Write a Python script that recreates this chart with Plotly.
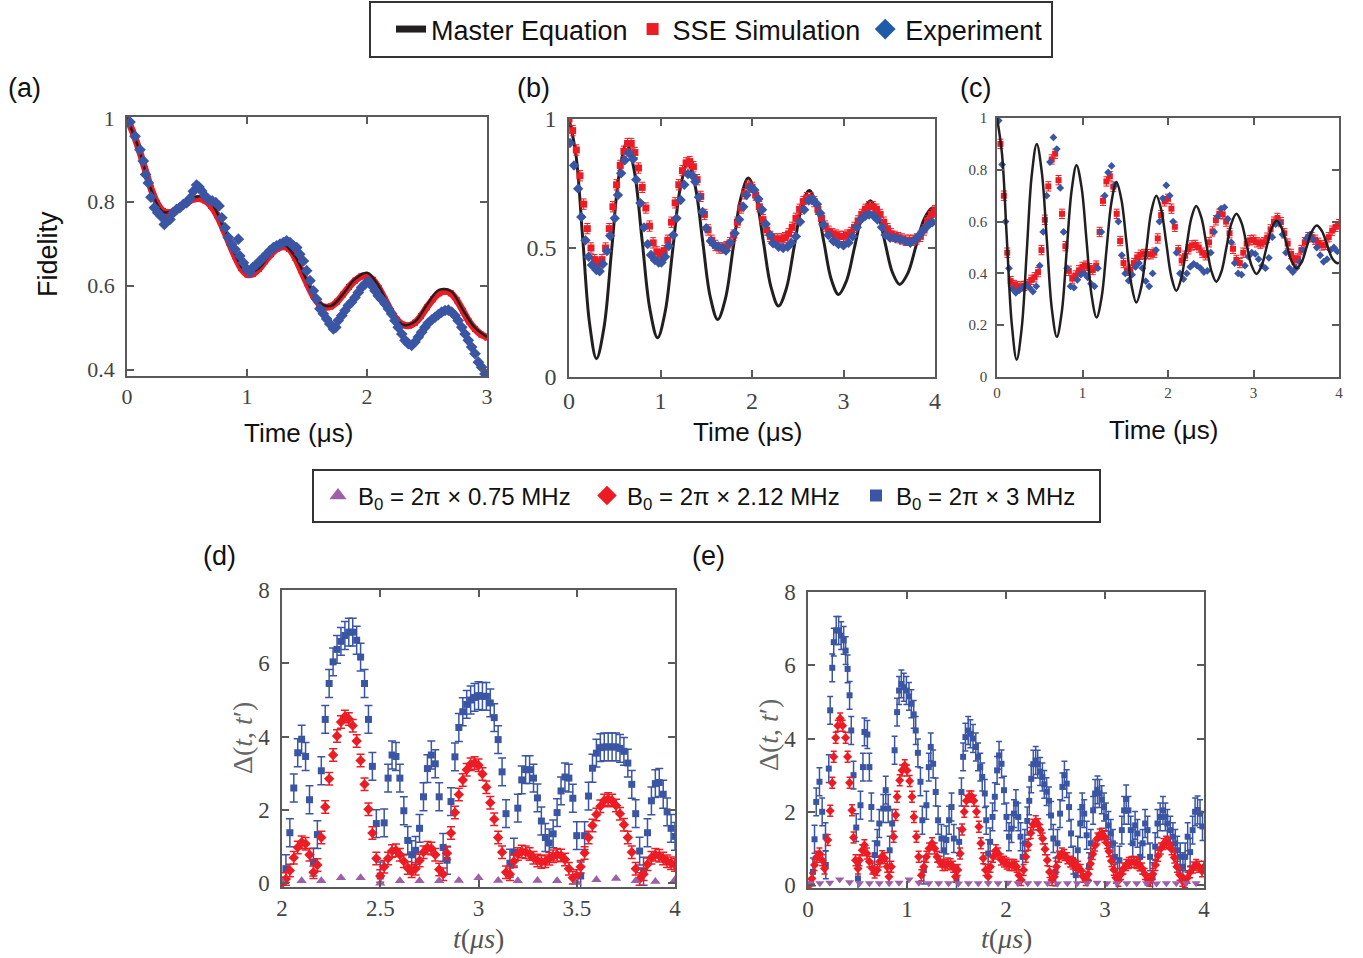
import plotly.graph_objects as go

W, H = 1363, 958

# ---------------- Panel (a) data ----------------
A_ME = [(0.0,1.000),(0.1,0.925),(0.2,0.830),(0.3,0.776),(0.4,0.780),(0.5,0.798),(0.6,0.813),
        (0.7,0.798),(0.8,0.742),(0.9,0.675),(1.0,0.630),(1.1,0.642),(1.2,0.678),(1.3,0.698),
        (1.4,0.670),(1.5,0.612),(1.6,0.560),(1.7,0.552),(1.8,0.580),(1.9,0.616),(2.0,0.631),
        (2.1,0.598),(2.2,0.542),(2.3,0.507),(2.4,0.515),(2.5,0.555),(2.6,0.590),(2.7,0.587),
        (2.8,0.542),(2.9,0.500),(3.0,0.478)]
A_SSE = [(0.00,1.000),(0.05,0.965),(0.10,0.925),(0.15,0.878),(0.20,0.832),(0.25,0.797),(0.30,0.778),
         (0.35,0.774),(0.40,0.779),(0.45,0.789),(0.50,0.798),(0.55,0.806),(0.60,0.808),(0.65,0.803),
         (0.70,0.790),(0.75,0.768),(0.80,0.737),(0.85,0.703),(0.90,0.670),(0.95,0.642),(1.00,0.627),
         (1.05,0.628),(1.10,0.640),(1.15,0.658),(1.20,0.675),(1.25,0.688),(1.30,0.693),(1.35,0.688),
         (1.40,0.667),(1.45,0.637),(1.50,0.606),(1.55,0.577),(1.60,0.557),(1.65,0.549),(1.70,0.551),
         (1.75,0.562),(1.80,0.579),(1.85,0.597),(1.90,0.612),(1.95,0.622),(2.00,0.624),(2.05,0.614),
         (2.10,0.594),(2.15,0.567),(2.20,0.540),(2.25,0.519),(2.30,0.507),(2.35,0.505),(2.40,0.512),
         (2.45,0.528),(2.50,0.549),(2.55,0.568),(2.60,0.582),(2.65,0.587),(2.70,0.582),(2.75,0.565),
         (2.80,0.540),(2.85,0.515),(2.90,0.497),(2.95,0.484),(3.00,0.477)]
A_EXP = [(0.025,0.99),(0.067,0.956),(0.108,0.924),(0.136,0.897),(0.155,0.865),(0.178,0.845),(0.2,0.811),
         (0.228,0.786),(0.256,0.774),(0.283,0.766),(0.311,0.746),(0.33,0.754),(0.358,0.758),(0.386,0.774),
         (0.414,0.782),(0.44,0.786),(0.47,0.794),(0.497,0.798),(0.525,0.808),(0.553,0.825),(0.58,0.84),
         (0.6,0.835),(0.622,0.826),(0.65,0.814),(0.678,0.806),(0.71,0.802),(0.74,0.798),(0.767,0.79),
         (0.79,0.762),(0.817,0.738),(0.844,0.715),(0.872,0.699),(0.9,0.687),(0.928,0.711),(0.94,0.671),
         (0.97,0.655),(0.997,0.64),(1.025,0.632),(1.05,0.644),(1.08,0.651),(1.108,0.659),(1.136,0.667),
         (1.164,0.675),(1.19,0.683),(1.22,0.691),(1.247,0.695),(1.275,0.699),(1.303,0.703),(1.33,0.707),
         (1.358,0.703),(1.386,0.695),(1.414,0.691),(1.44,0.675),(1.47,0.659),(1.497,0.636),(1.525,0.612),
         (1.553,0.588),(1.58,0.568),(1.608,0.545),(1.636,0.533),(1.664,0.521),(1.69,0.509),(1.72,0.497),
         (1.74,0.501),(1.76,0.517),(1.79,0.529),(1.817,0.541),(1.844,0.553),(1.872,0.561),(1.9,0.572),
         (1.928,0.584),(1.955,0.596),(1.983,0.604),(2.01,0.61),(2.04,0.6),(2.067,0.588),(2.094,0.576),
         (2.12,0.568),(2.15,0.557),(2.178,0.545),(2.205,0.533),(2.233,0.517),(2.26,0.501),(2.29,0.485),
         (2.317,0.47),(2.344,0.462),(2.372,0.458),(2.4,0.466),(2.428,0.478),(2.455,0.489),(2.483,0.501),
         (2.51,0.511),(2.54,0.519),(2.567,0.525),(2.594,0.531),(2.622,0.537),(2.65,0.541),(2.678,0.542),
         (2.706,0.537),(2.733,0.529),(2.76,0.517),(2.79,0.501),(2.817,0.485),(2.844,0.47),(2.872,0.454),
         (2.9,0.438),(2.928,0.418),(2.955,0.406),(2.983,0.39),(3.0,0.383)]

# ---------------- Panel (b) data ----------------
B_ME = [(0,1.0),(0.075,0.864),(0.15,0.536),(0.225,0.207),(0.30,0.071),(0.383,0.193),(0.465,0.489),
        (0.548,0.785),(0.63,0.907),(0.715,0.796),(0.799,0.530),(0.884,0.263),(0.968,0.152),(1.050,0.251),
        (1.133,0.491),(1.215,0.730),(1.297,0.829),(1.379,0.740),(1.461,0.526),(1.543,0.312),(1.625,0.223),
        (1.709,0.303),(1.793,0.497),(1.876,0.691),(1.96,0.771),(2.043,0.698),(2.125,0.523),(2.208,0.348),
        (2.29,0.275),(2.374,0.341),(2.458,0.499),(2.541,0.657),(2.625,0.723),(2.705,0.664),(2.786,0.522),
        (2.866,0.379),(2.946,0.320),(3.033,0.373),(3.120,0.502),(3.206,0.630),(3.293,0.683),(3.373,0.636),
        (3.454,0.521),(3.534,0.406),(3.614,0.359),(3.703,0.402),(3.792,0.507),(3.881,0.612),(3.97,0.655),
        (4.0,0.653)]
B_SSE = [(0.00,1.000),(0.04,0.955),(0.08,0.880),(0.12,0.780),(0.16,0.670),(0.20,0.575),(0.24,0.500),
         (0.28,0.455),(0.32,0.440),(0.36,0.455),(0.40,0.500),(0.44,0.575),(0.48,0.660),(0.52,0.745),
         (0.56,0.820),(0.60,0.875),(0.64,0.905),(0.68,0.905),(0.72,0.870),(0.76,0.810),(0.80,0.735),
         (0.84,0.655),(0.88,0.585),(0.92,0.520),(0.96,0.485),(1.00,0.475),(1.04,0.490),(1.08,0.530),
         (1.12,0.600),(1.16,0.675),(1.20,0.745),(1.24,0.800),(1.28,0.830),(1.32,0.835),(1.36,0.815),
         (1.40,0.765),(1.44,0.700),(1.48,0.630),(1.52,0.570),(1.56,0.530),(1.60,0.510),(1.64,0.500),
         (1.68,0.500),(1.72,0.505),(1.76,0.520),(1.80,0.550),(1.84,0.600),(1.88,0.655),(1.92,0.710),
         (1.96,0.740),(2.00,0.735),(2.04,0.705),(2.08,0.660),(2.12,0.610),(2.16,0.570),(2.20,0.545),
         (2.24,0.535),(2.28,0.535),(2.32,0.535),(2.36,0.540),(2.40,0.555),(2.44,0.580),(2.48,0.615),
         (2.52,0.650),(2.56,0.680),(2.60,0.695),(2.64,0.695),(2.68,0.680),(2.72,0.650),(2.76,0.615),
         (2.80,0.585),(2.84,0.565),(2.88,0.555),(2.92,0.550),(2.96,0.545),(3.00,0.545),(3.04,0.550),
         (3.08,0.560),(3.12,0.580),(3.16,0.605),(3.20,0.630),(3.24,0.650),(3.28,0.660),(3.32,0.660),
         (3.36,0.650),(3.40,0.630),(3.44,0.600),(3.48,0.575),(3.52,0.555),(3.56,0.545),(3.60,0.540),
         (3.64,0.535),(3.68,0.530),(3.72,0.530),(3.76,0.530),(3.80,0.535),(3.84,0.545),(3.88,0.570),
         (3.92,0.605),(3.96,0.630),(4.00,0.645)]
B_EXP = [(0.01,0.907),(0.055,0.82),(0.10,0.73),(0.135,0.62),(0.18,0.53),(0.215,0.466),(0.25,0.434),
         (0.30,0.415),(0.335,0.41),(0.37,0.438),(0.415,0.488),(0.45,0.547),(0.50,0.615),(0.535,0.705),
         (0.57,0.79),(0.61,0.84),(0.655,0.868),(0.70,0.845),(0.735,0.765),(0.78,0.674),(0.82,0.58),
         (0.86,0.515),(0.895,0.473),(0.94,0.453),(0.98,0.444),(1.01,0.444),(1.05,0.466),(1.09,0.508),
         (1.14,0.55),(1.175,0.615),(1.22,0.686),(1.26,0.745),(1.30,0.787),(1.35,0.78),(1.38,0.757),
         (1.42,0.697),(1.46,0.64),(1.50,0.577),(1.55,0.527),(1.59,0.512),(1.63,0.506),(1.675,0.50),
         (1.715,0.49),(1.76,0.52),(1.81,0.557),(1.86,0.61),(1.905,0.66),(1.94,0.705),(1.98,0.735),
         (2.025,0.725),(2.07,0.69),(2.11,0.648),(2.15,0.593),(2.20,0.55),(2.23,0.518),(2.29,0.505),
         (2.34,0.50),(2.39,0.505),(2.43,0.52),(2.48,0.545),(2.525,0.602),(2.57,0.648),(2.62,0.684),
         (2.66,0.69),(2.71,0.67),(2.745,0.635),(2.78,0.59),(2.835,0.55),(2.89,0.527),(2.945,0.515),
         (3.00,0.51),(3.055,0.52),(3.10,0.545),(3.145,0.58),(3.19,0.61),(3.24,0.625),(3.28,0.63),
         (3.33,0.625),(3.37,0.61),(3.42,0.58),(3.46,0.55),(3.51,0.54),(3.565,0.538),(3.62,0.533),
         (3.675,0.527),(3.73,0.52),(3.785,0.533),(3.83,0.55),(3.875,0.57),(3.93,0.59),(3.97,0.60)]

# ---------------- Panel (c) data ----------------
C_ME = [(0,1.0),(0.058,0.863),(0.115,0.534),(0.173,0.204),(0.23,0.067),(0.289,0.189),(0.348,0.484),
        (0.406,0.778),(0.465,0.90),(0.524,0.791),(0.583,0.528),(0.641,0.264),(0.70,0.155),(0.758,0.252),
        (0.815,0.487),(0.873,0.721),(0.93,0.818),(0.989,0.732),(1.048,0.524),(1.106,0.316),(1.165,0.23),
        (1.223,0.307),(1.281,0.492),(1.339,0.676),(1.397,0.753),(1.455,0.685),(1.514,0.521),(1.572,0.356),
        (1.63,0.288),(1.688,0.348),(1.747,0.494),(1.805,0.640),(1.863,0.70),(1.921,0.646),(1.98,0.517),
        (2.039,0.387),(2.097,0.333),(2.155,0.381),(2.214,0.497),(2.272,0.612),(2.33,0.66),(2.389,0.617),
        (2.448,0.514),(2.506,0.411),(2.565,0.368),(2.624,0.406),(2.683,0.499),(2.741,0.592),(2.80,0.63),
        (2.859,0.596),(2.918,0.514),(2.976,0.432),(3.035,0.398),(3.094,0.428),(3.153,0.501),(3.211,0.573),
        (3.27,0.603),(3.329,0.576),(3.388,0.512),(3.446,0.447),(3.505,0.42),(3.564,0.444),(3.623,0.503),
        (3.681,0.561),(3.74,0.585),(3.799,0.564),(3.858,0.513),(3.916,0.461),(3.975,0.44),(4.0,0.441)]
C_SSE = [(0.00,1.000),(0.04,0.900),(0.08,0.700),(0.12,0.480),(0.16,0.370),(0.20,0.355),(0.24,0.350),
         (0.28,0.350),(0.32,0.352),(0.36,0.358),(0.40,0.375),(0.44,0.385),(0.48,0.405),(0.52,0.490),
         (0.56,0.607),(0.60,0.736),(0.64,0.840),(0.68,0.862),(0.72,0.760),(0.76,0.630),(0.80,0.505),
         (0.84,0.410),(0.88,0.380),(0.92,0.392),(0.96,0.412),(1.00,0.425),(1.04,0.430),(1.08,0.420),
         (1.12,0.413),(1.16,0.430),(1.20,0.560),(1.24,0.680),(1.28,0.755),(1.32,0.775),(1.36,0.735),
         (1.40,0.630),(1.44,0.525),(1.48,0.440),(1.52,0.410),(1.56,0.415),(1.60,0.440),(1.64,0.462),
         (1.68,0.472),(1.72,0.475),(1.76,0.474),(1.80,0.474),(1.84,0.480),(1.88,0.535),(1.92,0.625),
         (1.96,0.678),(2.00,0.688),(2.04,0.650),(2.08,0.580),(2.12,0.490),(2.16,0.450),(2.20,0.468),
         (2.24,0.493),(2.28,0.508),(2.32,0.510),(2.36,0.500),(2.40,0.480),(2.44,0.470),(2.48,0.520),
         (2.52,0.562),(2.56,0.605),(2.60,0.630),(2.64,0.628),(2.68,0.600),(2.72,0.555),(2.76,0.495),
         (2.80,0.452),(2.84,0.440),(2.88,0.480),(2.92,0.515),(2.96,0.528),(3.00,0.530),(3.04,0.520),
         (3.08,0.515),(3.12,0.520),(3.16,0.538),(3.20,0.570),(3.24,0.600),(3.28,0.614),(3.32,0.598),
         (3.36,0.555),(3.40,0.515),(3.44,0.475),(3.48,0.452),(3.52,0.458),(3.56,0.490),(3.60,0.520),
         (3.64,0.540),(3.68,0.540),(3.72,0.530),(3.76,0.518),(3.80,0.508),(3.84,0.510),(3.88,0.540),
         (3.92,0.565),(3.96,0.580),(4.00,0.590)]
C_EXP = [(0.02,0.990),(0.06,0.820),(0.10,0.600),(0.14,0.420),(0.18,0.340),(0.22,0.325),(0.26,0.335),
         (0.30,0.345),(0.34,0.355),(0.38,0.345),(0.42,0.330),(0.46,0.350),(0.50,0.430),(0.54,0.560),
         (0.58,0.700),(0.62,0.830),(0.66,0.925),(0.70,0.880),(0.74,0.730),(0.78,0.560),(0.82,0.420),
         (0.86,0.350),(0.90,0.345),(0.94,0.375),(0.98,0.395),(1.02,0.400),(1.06,0.385),(1.10,0.360),
         (1.14,0.350),(1.18,0.420),(1.22,0.560),(1.26,0.700),(1.30,0.790),(1.34,0.815),(1.38,0.740),
         (1.42,0.600),(1.46,0.470),(1.50,0.400),(1.54,0.372),(1.58,0.395),(1.62,0.425),(1.66,0.440),
         (1.70,0.420),(1.74,0.370),(1.78,0.350),(1.82,0.400),(1.86,0.490),(1.90,0.600),(1.94,0.690),
         (1.98,0.740),(2.02,0.700),(2.06,0.600),(2.10,0.480),(2.14,0.400),(2.18,0.378),(2.22,0.400),
         (2.26,0.425),(2.30,0.437),(2.34,0.430),(2.38,0.420),(2.42,0.405),(2.46,0.410),(2.50,0.480),
         (2.54,0.560),(2.58,0.620),(2.62,0.650),(2.66,0.655),(2.70,0.610),(2.74,0.520),(2.78,0.440),
         (2.82,0.400),(2.86,0.395),(2.90,0.430),(2.94,0.465),(2.98,0.480),(3.02,0.475),(3.06,0.455),
         (3.10,0.430),(3.14,0.420),(3.18,0.460),(3.22,0.540),(3.26,0.590),(3.30,0.595),(3.34,0.550),
         (3.38,0.480),(3.42,0.420),(3.46,0.405),(3.50,0.420),(3.54,0.445),(3.58,0.490),(3.62,0.535),
         (3.66,0.550),(3.70,0.530),(3.74,0.500),(3.78,0.470),(3.82,0.445),(3.86,0.455),(3.90,0.490),
         (3.94,0.500),(3.98,0.485)]

# ---------------- Panel (d) data ----------------
D_B075 = [(2.0,0.04),(2.1,0.07),(2.2,0.07),(2.3,0.15),(2.4,0.15),(2.5,0.0),(2.6,0.07),(2.7,0.07),
          (2.8,0.07),(2.9,0.08),(3.0,0.15),(3.1,0.08),(3.2,0.07),(3.3,0.08),(3.4,0.07),(3.5,0.02),
          (3.6,0.10),(3.7,0.13),(3.8,0.07),(3.9,0.05),(4.0,0.10)]
D_B212 = [(2.00,0.0),(2.02,0.12),(2.04,0.35),(2.06,0.70),(2.08,0.98),(2.10,1.12),(2.12,1.08),(2.14,0.78),
          (2.16,0.30),(2.18,0.50),(2.20,1.25),(2.22,2.08),(2.24,2.85),(2.26,3.50),(2.28,4.02),(2.30,4.40),
          (2.32,4.55),(2.34,4.48),(2.36,4.30),(2.38,3.88),(2.40,3.35),(2.42,2.70),(2.44,2.02),(2.46,1.37),
          (2.48,0.68),(2.50,0.20),(2.52,0.45),(2.54,0.68),(2.56,0.88),(2.58,0.90),(2.60,0.78),(2.62,0.60),
          (2.64,0.42),(2.66,0.33),(2.68,0.40),(2.70,0.62),(2.72,0.85),(2.74,0.97),(2.76,0.95),(2.78,0.78),
          (2.80,0.38),(2.82,0.25),(2.84,0.82),(2.86,1.37),(2.88,1.93),(2.90,2.42),(2.92,2.82),(2.94,3.10),
          (2.96,3.25),(2.98,3.28),(3.00,3.22),(3.02,2.98),(3.04,2.62),(3.06,2.20),(3.08,1.75),(3.10,1.25),
          (3.12,0.85),(3.14,0.30),(3.16,0.25),(3.18,0.60),(3.20,0.80),(3.22,0.87),(3.24,0.85),(3.26,0.80),
          (3.28,0.70),(3.30,0.62),(3.32,0.58),(3.34,0.60),(3.36,0.67),(3.38,0.74),(3.40,0.78),(3.42,0.76),
          (3.44,0.65),(3.46,0.40),(3.48,0.15),(3.50,0.20),(3.52,0.45),(3.54,0.83),(3.56,1.25),(3.58,1.58),
          (3.60,1.88),(3.62,2.10),(3.64,2.26),(3.66,2.30),(3.68,2.26),(3.70,2.12),(3.72,1.90),(3.74,1.60),
          (3.76,1.25),(3.78,0.85),(3.80,0.40),(3.82,0.12),(3.84,0.25),(3.86,0.52),(3.88,0.70),(3.90,0.78),
          (3.92,0.75),(3.94,0.68),(3.96,0.60),(3.98,0.55),(4.00,0.50)]
D_B3 = [(2.02,0.40),(2.04,1.38),(2.06,2.60),(2.08,3.56),(2.10,3.93),(2.12,3.46),(2.14,2.28),(2.16,0.58),
        (2.18,1.33),(2.20,3.07),(2.22,4.47),(2.24,5.45),(2.26,6.04),(2.28,6.38),(2.30,6.60),(2.32,6.76),
        (2.34,6.85),(2.36,6.85),(2.38,6.63),(2.40,6.17),(2.42,5.45),(2.44,4.47),(2.46,3.19),(2.48,1.63),
        (2.50,0.20),(2.52,1.65),(2.54,2.87),(2.56,3.50),(2.58,3.46),(2.60,2.87),(2.62,1.98),(2.64,1.17),
        (2.66,0.78),(2.68,0.90),(2.70,1.50),(2.72,2.36),(2.74,3.13),(2.76,3.50),(2.78,3.26),(2.80,2.36),
        (2.82,0.98),(2.84,0.63),(2.86,2.23),(2.88,3.45),(2.90,4.25),(2.92,4.68),(2.94,4.88),(2.96,5.00),
        (2.98,5.07),(3.00,5.12),(3.02,5.10),(3.04,5.10),(3.06,4.92),(3.08,4.52),(3.10,3.92),(3.12,3.04),
        (3.14,1.90),(3.16,0.55),(3.18,0.85),(3.20,2.05),(3.22,2.82),(3.24,3.10),(3.26,3.10),(3.28,2.87),
        (3.30,2.33),(3.32,1.70),(3.34,1.25),(3.36,1.10),(3.38,1.35),(3.40,1.93),(3.42,2.52),(3.44,2.90),
        (3.46,2.87),(3.48,2.32),(3.50,1.30),(3.52,0.20),(3.54,1.30),(3.56,2.38),(3.58,3.14),(3.60,3.55),
        (3.62,3.70),(3.64,3.72),(3.66,3.72),(3.68,3.72),(3.70,3.72),(3.72,3.68),(3.74,3.60),(3.76,3.28),
        (3.78,2.70),(3.80,1.90),(3.82,0.88),(3.84,0.33),(3.86,1.38),(3.88,2.25),(3.90,2.72),(3.92,2.75),
        (3.94,2.43),(3.96,1.95),(3.98,1.50),(4.00,1.28)]

# ---------------- Panel (e) data ----------------
E_B075 = [(0.02,0.05),(0.12,0.05),(0.22,0.06),(0.32,0.15),(0.42,0.08),(0.52,0.05),(0.62,0.05),(0.72,0.05),
          (0.82,0.05),(0.92,0.06),(1.02,0.15),(1.12,0.06),(1.22,0.05),(1.32,0.05),(1.42,0.05),(1.52,0.04),
          (1.62,0.05),(1.72,0.05),(1.82,0.05),(1.92,0.05),(2.02,0.06),(2.12,0.05),(2.22,0.05),(2.32,0.05),
          (2.42,0.05),(2.52,0.04),(2.62,0.05),(2.72,0.05),(2.82,0.05),(2.92,0.06),(3.02,0.05),(3.12,0.05),
          (3.22,0.05),(3.32,0.05),(3.42,0.05),(3.52,0.04),(3.62,0.05),(3.72,0.05),(3.82,0.05),(3.92,0.05)]
E_B212 = [(0.015,0.0),(0.04,0.18),(0.066,0.55),(0.09,0.77),(0.116,0.86),(0.143,0.68),(0.167,0.45),(0.2,1.23),
          (0.224,2.03),(0.245,2.79),(0.26,3.5),(0.28,4.02),(0.30,4.35),(0.325,4.55),(0.35,4.35),(0.38,4.02),
          (0.40,3.5),(0.42,2.79),(0.444,2.04),(0.46,1.3),(0.48,0.68),(0.505,0.45),(0.52,0.68),(0.548,0.95),
          (0.57,1.09),(0.596,0.86),(0.62,0.64),(0.65,0.45),(0.673,0.34),(0.70,0.41),(0.724,0.64),(0.75,0.79),
          (0.774,0.73),(0.80,0.5),(0.818,0.23),(0.842,0.5),(0.865,1.32),(0.886,1.91),(0.90,2.41),(0.926,2.86),
          (0.95,3.13),(0.977,3.27),(1.0,3.13),(1.027,2.84),(1.05,2.41),(1.07,1.86),(1.095,1.32),(1.118,0.77),
          (1.145,0.27),(1.17,0.5),(1.196,0.77),(1.223,1.0),(1.253,1.14),(1.28,1.0),(1.304,0.77),(1.33,0.64),
          (1.358,0.55),(1.385,0.55),(1.412,0.59),(1.44,0.57),(1.466,0.5),(1.49,0.23),(1.513,0.41),(1.537,0.86),
          (1.557,1.52),(1.578,2.0),(1.60,2.3),(1.628,2.42),(1.652,2.42),(1.675,2.3),(1.702,2.0),(1.726,1.59),
          (1.746,1.14),(1.77,0.73),(1.793,0.41),(1.82,0.23),(1.843,0.5),(1.87,0.77),(1.898,0.95),(1.92,0.86),
          (1.948,0.7),(1.98,0.64),(2.006,0.59),(2.033,0.55),(2.06,0.55),(2.083,0.55),(2.107,0.5),(2.13,0.27),
          (2.154,0.14),(2.178,0.41),(2.20,0.77),(2.225,1.1),(2.25,1.42),(2.276,1.65),(2.30,1.74),(2.323,1.66),
          (2.347,1.5),(2.37,1.27),(2.394,0.98),(2.417,0.68),(2.44,0.36),(2.464,0.14),(2.488,0.23),(2.51,0.5),
          (2.537,0.77),(2.565,0.86),(2.59,0.82),(2.62,0.73),(2.646,0.64),(2.673,0.59),(2.70,0.55),(2.727,0.5),
          (2.755,0.41),(2.78,0.23),(2.805,0.14),(2.83,0.3),(2.853,0.58),(2.876,0.85),(2.90,1.08),(2.924,1.27),
          (2.947,1.38),(2.97,1.4),(2.994,1.32),(3.018,1.15),(3.04,0.92),(3.065,0.66),(3.088,0.42),(3.11,0.2),
          (3.136,0.12),(3.163,0.3),(3.187,0.45),(3.214,0.55),(3.24,0.6),(3.267,0.63),(3.294,0.63),(3.32,0.6),
          (3.348,0.55),(3.375,0.45),(3.402,0.3),(3.43,0.15),(3.456,0.12),(3.483,0.3),(3.51,0.55),(3.537,0.8),
          (3.564,1.0),(3.59,1.12),(3.618,1.18),(3.645,1.14),(3.672,0.98),(3.70,0.75),(3.726,0.5),(3.753,0.28),
          (3.78,0.12),(3.807,0.08),(3.834,0.2),(3.86,0.35),(3.89,0.48),(3.92,0.55),(3.95,0.5),(3.98,0.38),
          (4.0,0.5)]
E_B3 = [(0.05,0.36),(0.066,1.25),(0.083,2.27),(0.116,2.82),(0.143,2.0),(0.177,1.32),(0.18,0.55),(0.21,3.18),
        (0.224,4.77),(0.245,5.93),(0.26,6.63),(0.285,6.95),(0.31,6.95),(0.335,6.81),(0.36,6.68),(0.38,6.4),
        (0.40,5.9),(0.42,5.18),(0.437,4.22),(0.46,3.0),(0.487,1.57),(0.505,0.18),(0.53,2.18),(0.555,3.22),
        (0.57,4.18),(0.60,4.11),(0.62,3.22),(0.64,2.13),(0.673,0.82),(0.70,1.14),(0.72,1.68),(0.76,2.09),
        (0.785,2.59),(0.81,2.09),(0.825,0.95),(0.85,1.68),(0.875,3.68),(0.90,4.72),(0.92,5.31),(0.943,5.49),
        (0.967,5.4),(0.994,5.31),(1.02,5.15),(1.044,4.95),(1.068,4.66),(1.088,4.22),(1.11,3.61),(1.136,2.82),
        (1.155,1.77),(1.17,0.41),(1.196,2.18),(1.22,3.22),(1.24,3.77),(1.264,3.31),(1.29,2.54),(1.314,1.77),
        (1.348,1.27),(1.372,0.95),(1.398,1.23),(1.425,1.77),(1.45,2.13),(1.473,1.27),(1.50,0.14),(1.527,1.18),
        (1.55,2.54),(1.567,3.5),(1.59,4.04),(1.618,4.22),(1.64,4.13),(1.667,4.0),(1.695,3.77),(1.718,3.5),
        (1.74,3.22),(1.76,2.95),(1.786,2.5),(1.80,1.77),(1.82,0.86),(1.84,1.18),(1.864,1.86),(1.887,2.41),
        (1.91,3.13),(1.93,3.54),(1.955,3.31),(1.98,2.59),(2.005,1.86),(2.03,1.32),(2.056,1.54),(2.08,1.95),
        (2.10,2.22),(2.124,1.86),(2.147,1.32),(2.168,0.77),(2.19,1.14),(2.215,1.75),(2.235,2.3),(2.255,2.9),
        (2.276,3.3),(2.30,3.4),(2.32,3.3),(2.344,3.1),(2.368,2.95),(2.387,2.75),(2.41,2.55),(2.434,2.3),
        (2.455,1.9),(2.478,1.27),(2.50,0.36),(2.52,1.14),(2.546,1.95),(2.57,2.68),(2.59,3.0),(2.613,2.77),
        (2.637,2.13),(2.657,1.41),(2.68,0.68),(2.705,0.27),(2.725,0.95),(2.75,1.68),(2.77,2.13),(2.79,1.95),
        (2.815,1.36),(2.838,0.5),(2.857,1.14),(2.88,2.04),(2.90,2.5),(2.924,2.6),(2.944,2.5),(2.967,2.33),
        (2.99,2.13),(3.01,1.86),(3.035,1.63),(3.058,1.41),(3.08,1.14),(3.10,0.77),(3.126,0.23),(3.146,0.68),
        (3.17,1.5),(3.193,2.04),(3.214,2.35),(3.237,2.04),(3.26,1.5),(3.28,1.14),(3.304,1.63),(3.328,1.41),
        (3.355,0.77),(3.38,1.14),(3.405,1.68),(3.43,1.5),(3.455,0.77),(3.48,0.23),(3.507,1.05),(3.53,1.68),
        (3.557,1.86),(3.585,2.04),(3.61,1.86),(3.63,1.68),(3.66,1.5),(3.686,1.32),(3.71,1.14),(3.73,0.95),
        (3.76,0.77),(3.787,0.5),(3.81,0.77),(3.835,1.32),(3.86,0.9),(3.885,1.5),(3.91,2.0),(3.935,2.05),
        (3.96,1.95),(3.985,1.6)]

# ---------------- Tick labels ----------------
A_XT = [0, 1, 2, 3];            A_XL = ["0", "1", "2", "3"]
A_YT = [0.4, 0.6, 0.8, 1.0];    A_YL = ["0.4", "0.6", "0.8", "1"]
B_XT = [0, 1, 2, 3, 4];         B_XL = ["0", "1", "2", "3", "4"]
B_YT = [0, 0.5, 1.0];           B_YL = ["0", "0.5", "1"]
C_YT = [0, 0.2, 0.4, 0.6, 0.8, 1.0]; C_YL = ["0", "0.2", "0.4", "0.6", "0.8", "1"]
D_XT = [2, 2.5, 3, 3.5, 4];     D_XL = ["2", "2.5", "3", "3.5", "4"]
DE_YT = [0, 2, 4, 6, 8];        DE_YL = ["0", "2", "4", "6", "8"]

LEG_TOP = ["Master Equation", "SSE Simulation", "Experiment"]
LEG_B0 = ["B<sub>0</sub> = 2π × 0.75 MHz", "B<sub>0</sub> = 2π × 2.12 MHz", "B<sub>0</sub> = 2π × 3 MHz"]

# ---------------- Styles ----------------
BLACK = "#231f20"
RED = "#ed1c24"
BLUE = "#3a55a4"
BLUE_LEG = "#1f5ba8"
PURPLE = "#9d5fa8"
AXC = "#5a5a5a"


def xs(p):
    return [q[0] for q in p]


def ys(p):
    return [q[1] for q in p]


fig = go.Figure()

# (a)
fig.add_trace(go.Scatter(x=xs(A_SSE), y=ys(A_SSE), mode="lines+markers",
                         line=dict(color=RED, width=7, shape="spline"),
                         marker=dict(symbol="square", size=6, color=RED),
                         error_y=dict(type="constant", value=0.006, color=RED, thickness=1, width=2),
                         xaxis="x", yaxis="y", showlegend=False))
fig.add_trace(go.Scatter(x=xs(A_ME), y=ys(A_ME), mode="lines",
                         line=dict(color=BLACK, width=2.5, shape="spline"),
                         xaxis="x", yaxis="y", showlegend=False))
fig.add_trace(go.Scatter(x=xs(A_EXP), y=ys(A_EXP), mode="markers",
                         marker=dict(symbol="diamond", size=9, color=BLUE),
                         xaxis="x", yaxis="y", showlegend=False))
# (b)
fig.add_trace(go.Scatter(x=xs(B_ME), y=ys(B_ME), mode="lines",
                         line=dict(color=BLACK, width=3, shape="spline"),
                         xaxis="x2", yaxis="y2", showlegend=False))
fig.add_trace(go.Scatter(x=xs(B_SSE), y=ys(B_SSE), mode="markers",
                         marker=dict(symbol="square", size=7, color=RED),
                         error_y=dict(type="constant", value=0.02, color=RED, thickness=1, width=3),
                         xaxis="x2", yaxis="y2", showlegend=False))
fig.add_trace(go.Scatter(x=xs(B_EXP), y=ys(B_EXP), mode="markers",
                         marker=dict(symbol="diamond", size=8, color=BLUE),
                         xaxis="x2", yaxis="y2", showlegend=False))
# (c)
fig.add_trace(go.Scatter(x=xs(C_SSE), y=ys(C_SSE), mode="markers",
                         marker=dict(symbol="square", size=6, color=RED),
                         error_y=dict(type="constant", value=0.018, color=RED, thickness=1, width=3),
                         xaxis="x3", yaxis="y3", showlegend=False))
fig.add_trace(go.Scatter(x=xs(C_EXP), y=ys(C_EXP), mode="markers",
                         marker=dict(symbol="diamond", size=6, color=BLUE),
                         xaxis="x3", yaxis="y3", showlegend=False))
fig.add_trace(go.Scatter(x=xs(C_ME), y=ys(C_ME), mode="lines",
                         line=dict(color=BLACK, width=2.5, shape="spline"),
                         xaxis="x3", yaxis="y3", showlegend=False))
# (d)
fig.add_trace(go.Scatter(x=xs(D_B3), y=ys(D_B3), mode="markers",
                         marker=dict(symbol="square", size=7, color=BLUE),
                         error_y=dict(type="constant", value=0.38, color=BLUE, thickness=1.5, width=4),
                         xaxis="x4", yaxis="y4", showlegend=False))
fig.add_trace(go.Scatter(x=xs(D_B212), y=ys(D_B212), mode="markers",
                         marker=dict(symbol="diamond", size=8, color=RED),
                         error_y=dict(type="constant", value=0.17, color=RED, thickness=1.5, width=4),
                         xaxis="x4", yaxis="y4", showlegend=False))
fig.add_trace(go.Scatter(x=xs(D_B075), y=ys(D_B075), mode="markers",
                         marker=dict(symbol="triangle-up", size=9, color=PURPLE),
                         xaxis="x4", yaxis="y4", showlegend=False))
# (e)
fig.add_trace(go.Scatter(x=xs(E_B3), y=ys(E_B3), mode="markers",
                         marker=dict(symbol="square", size=6, color=BLUE),
                         error_y=dict(type="constant", value=0.38, color=BLUE, thickness=1.5, width=3),
                         xaxis="x5", yaxis="y5", showlegend=False))
fig.add_trace(go.Scatter(x=xs(E_B212), y=ys(E_B212), mode="markers",
                         marker=dict(symbol="diamond", size=7, color=RED),
                         error_y=dict(type="constant", value=0.15, color=RED, thickness=1.5, width=3),
                         xaxis="x5", yaxis="y5", showlegend=False))
fig.add_trace(go.Scatter(x=xs(E_B075), y=ys(E_B075), mode="markers",
                         marker=dict(symbol="triangle-down", size=8, color=PURPLE),
                         xaxis="x5", yaxis="y5", showlegend=False))

# legend entries (no data drawn)
fig.add_trace(go.Scatter(x=[None], y=[None], mode="lines", name=LEG_TOP[0],
                         line=dict(color=BLACK, width=7), legend="legend", xaxis="x", yaxis="y"))
fig.add_trace(go.Scatter(x=[None], y=[None], mode="markers", name=LEG_TOP[1],
                         marker=dict(symbol="square", size=12, color=RED), legend="legend", xaxis="x", yaxis="y"))
fig.add_trace(go.Scatter(x=[None], y=[None], mode="markers", name=LEG_TOP[2],
                         marker=dict(symbol="diamond", size=16, color=BLUE_LEG), legend="legend", xaxis="x", yaxis="y"))
fig.add_trace(go.Scatter(x=[None], y=[None], mode="markers", name=LEG_B0[0],
                         marker=dict(symbol="triangle-up", size=15, color=PURPLE), legend="legend2", xaxis="x4", yaxis="y4"))
fig.add_trace(go.Scatter(x=[None], y=[None], mode="markers", name=LEG_B0[1],
                         marker=dict(symbol="diamond", size=15, color=RED), legend="legend2", xaxis="x4", yaxis="y4"))
fig.add_trace(go.Scatter(x=[None], y=[None], mode="markers", name=LEG_B0[2],
                         marker=dict(symbol="square", size=12, color=BLUE), legend="legend2", xaxis="x4", yaxis="y4"))


def axis(domain, rng, tv, tt, size, anchor, standoff):
    return dict(domain=domain, range=rng, anchor=anchor, tickvals=tv, ticktext=tt,
                showline=True, linecolor=AXC, linewidth=1.5, mirror="ticks",
                ticks="inside", ticklen=7, tickwidth=1.5, tickcolor=AXC,
                showgrid=False, zeroline=False, ticklabelstandoff=standoff, automargin=False,
                tickfont=dict(family="Liberation Serif", size=size, color="#444444"))


def px(x0, x1):
    return [x0 / W, x1 / W]


def py(top, bottom):
    return [1 - bottom / H, 1 - top / H]


layout = dict(
    width=W, height=H, autosize=False,
    margin=dict(l=0, r=0, t=0, b=0, pad=0, autoexpand=False),
    paper_bgcolor="white", plot_bgcolor="white",
    font=dict(family="Liberation Sans", color="#111111"),
    xaxis=axis(px(127, 487), [0, 3], A_XT, A_XL, 22, "y", 0),
    yaxis=axis(py(117, 376), [0.385, 1.002], A_YT, A_YL, 22, "x", 6),
    xaxis2=axis(px(569, 935), [0, 4], B_XT, B_XL, 24, "y2", 1),
    yaxis2=axis(py(119, 377), [0, 1], B_YT, B_YL, 24, "x2", 6),
    xaxis3=axis(px(997, 1339), [0, 4], B_XT, B_XL, 15, "y3", 1),
    yaxis3=axis(py(118, 377), [0, 1], C_YT, C_YL, 15, "x3", 5),
    xaxis4=axis(px(282, 675), [2, 4], D_XT, D_XL, 23, "y4", 0),
    yaxis4=axis(py(590, 887), [-0.1, 8], DE_YT, DE_YL, 23, "x4", 6),
    xaxis5=axis(px(808, 1204), [0, 4], B_XT, B_XL, 23, "y5", 0),
    yaxis5=axis(py(592, 888), [-0.08, 8], DE_YT, DE_YL, 23, "x5", 6),
    legend=dict(orientation="h", x=391 / W, xanchor="left", y=1 - 29.5 / H, yanchor="middle",
                font=dict(family="Liberation Sans", size=27, color="#111111"),
                bgcolor="rgba(0,0,0,0)", borderwidth=0, itemwidth=30),
    legend2=dict(orientation="h", x=318 / W, xanchor="left", y=1 - 496 / H, yanchor="middle",
                 font=dict(family="Liberation Sans", size=24, color="#111111"),
                 bgcolor="rgba(0,0,0,0)", borderwidth=0, itemwidth=30,
                 entrywidth=224, entrywidthmode="pixels"),
    shapes=[
        dict(type="rect", xref="paper", yref="paper", x0=370 / W, x1=1052 / W,
             y0=1 - 57 / H, y1=1 - 2 / H, line=dict(color="#333333", width=2)),
        dict(type="rect", xref="paper", yref="paper", x0=313 / W, x1=1100 / W,
             y0=1 - 522 / H, y1=1 - 470 / H, line=dict(color="#333333", width=2)),
    ],
)
fig.update_layout(**layout)


def ann(text, x, y, size, family="Liberation Sans", color="#111111", angle=0):
    fig.add_annotation(text=text, x=x / W, y=1 - y / H, xref="paper", yref="paper",
                       xanchor="center", yanchor="middle", showarrow=False, textangle=angle,
                       font=dict(family=family, size=size, color=color))


for lab, x, y in [("(a)", 24, 88), ("(b)", 533, 88), ("(c)", 975, 88), ("(d)", 220, 556), ("(e)", 708, 556)]:
    ann(lab, x, y, 27)

ann("Time (μs)", 298, 433, 26)
ann("Time (μs)", 747, 432, 26)
ann("Time (μs)", 1163, 430, 26)
ann("Fidelity", 48, 254, 27, angle=-90)
ann("<i>t</i>(<i>μs</i>)", 478, 938, 28, family="Liberation Serif", color="#555555")
ann("<i>t</i>(<i>μs</i>)", 1006, 938, 28, family="Liberation Serif", color="#555555")
ann("Δ(<i>t</i>, <i>t</i>′)", 242, 738, 28, family="Liberation Serif", color="#666666", angle=-90)
ann("Δ(<i>t</i>, <i>t</i>′)", 768, 735, 28, family="Liberation Serif", color="#666666", angle=-90)

fig.write_html("out.html")
